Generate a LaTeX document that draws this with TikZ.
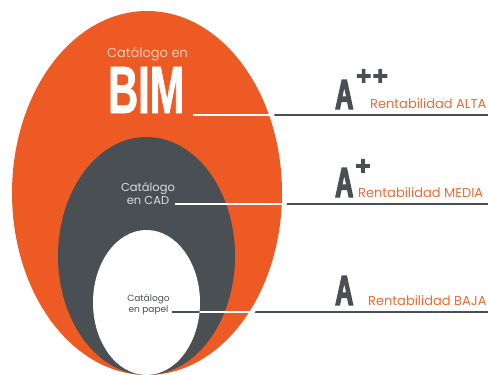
\documentclass[tikz,border=0pt]{standalone}
\usepackage{fontspec}
\setmainfont{Poppins}
\newfontfamily\tallfont[FakeStretch=0.62,BoldFeatures={FakeBold=1}]{Liberation Sans}
\newfontfamily\gradefont[FakeStretch=0.6,BoldFeatures={FakeBold=3}]{Liberation Sans}
\newfontfamily\plusfont[BoldFeatures={FakeBold=3}]{Liberation Sans}
\usepackage{tikz}
\usetikzlibrary{positioning}
\usepackage{xcolor}

\definecolor{bimorange}{HTML}{EE5A24}
\definecolor{cadgrey}{HTML}{4A4F54}
\definecolor{rentorange}{HTML}{EC6B35}
\definecolor{peach}{HTML}{F9CDB3}
\definecolor{cadtext}{HTML}{DCDCDC}

\tikzset{
  egglabel/.style={inner sep=0pt, align=center},
  grade/.style={inner sep=0pt, text=cadgrey, font=\gradefont\bfseries\fontsize{42}{42}\selectfont},
  gradeplus/.style={inner sep=0pt, text=cadgrey, font=\plusfont\bfseries\fontsize{26}{26}\selectfont},
  rent/.style={inner sep=0pt, text=rentorange, font=\fontsize{13}{15}\selectfont},
  rule/.style={draw=cadgrey, line width=1.8pt},
  inrule/.style={draw=white, line width=1.2pt},
  paperrule/.style={draw=cadgrey, line width=1.8pt}
}

\begin{document}
\begin{tikzpicture}[x=1pt, y=-1pt]
                \useasboundingbox (0,0) rectangle (488,375);

                % Centres of the three eggs
                \coordinate (bimC) at (147,193);
                \coordinate (cadC) at (146.5,256);
                \coordinate (paperC) at (146.5,302.5);

                % Ends of the three rules
                \coordinate (bimTip) at (193,115);
                \coordinate (altaEnd) at (488,115);
                \coordinate (cadTip) at (175,204);
                \coordinate (mediaEnd) at (488,204);
                \coordinate (paperTip) at (172,312);
                \coordinate (bajaEnd) at (488,312);

                % Grey rules (outside part)
                \draw[rule] (bimTip) -- (altaEnd);
                \draw[rule] (cadTip) -- (mediaEnd);
                \draw[rule] (paperTip) -- (bajaEnd);

                % White gap round the big egg
                \draw[white, line width=10pt] (bimC) ellipse [x radius=135, y radius=182];

                % The three eggs
                \fill[bimorange] (bimC) ellipse [x radius=135, y radius=182];
                \fill[cadgrey] (cadC) ellipse [x radius=88.5, y radius=119];
                \fill[white] (paperC) ellipse [x radius=53.5, y radius=72.5];

                % White rules inside the big egg
                \begin{scope}
                \clip (bimC) ellipse [x radius=135, y radius=182];
                \draw[inrule] (bimTip) -- (altaEnd);
                \draw[inrule] (cadTip) -- (mediaEnd);
                \draw[inrule] (paperTip) -- (bajaEnd);
                \end{scope}

                % Dark rule inside the paper egg
                \begin{scope}
                \clip (paperC) ellipse [x radius=53.5, y radius=72.5];
                \draw[paperrule] (paperTip) -- (bajaEnd);
                \end{scope}

                % Labels in the eggs
                \node[egglabel, anchor=base, text=peach, font=\fontsize{13}{15}\selectfont] (bimTop) at (147.5,57) {Catálogo en};
                \node[egglabel, anchor=base west, text=white, font=\tallfont\bfseries\fontsize{67}{67}\selectfont] (bim) at (108,113) {BIM};
                \node[egglabel, anchor=south, text=cadtext, font=\fontsize{11.5}{13}\selectfont] (cad) at (148,205) {Catálogo\\en CAD};
                \node[egglabel, anchor=south, text=cadgrey, font=\fontsize{9}{11}\selectfont] (paper) at (148.5,315) {Catálogo\\en papel};

                % Top row: A++
                \node[grade, anchor=base west] (aAlta) at (335,109) {A};
                \node[gradeplus] (altaPlus) at (372,77) {+\kern1.5pt+};
                \node[rent, anchor=base west] (alta) at (370,108) {Rentabilidad ALTA};

                % Middle row: A+
                \node[grade, anchor=base west] (aMedia) at (335,197) {A};
                \node[gradeplus] (mediaPlus) at (363,167) {+};
                \node[rent, anchor=base west] (media) at (358,197) {Rentabilidad MEDIA};

                % Bottom row: A
                \node[grade, anchor=base west] (aBaja) at (335,305) {A};
                \node[rent, anchor=base west] (baja) at (368,305) {Rentabilidad BAJA};
\end{tikzpicture}
\end{document}
